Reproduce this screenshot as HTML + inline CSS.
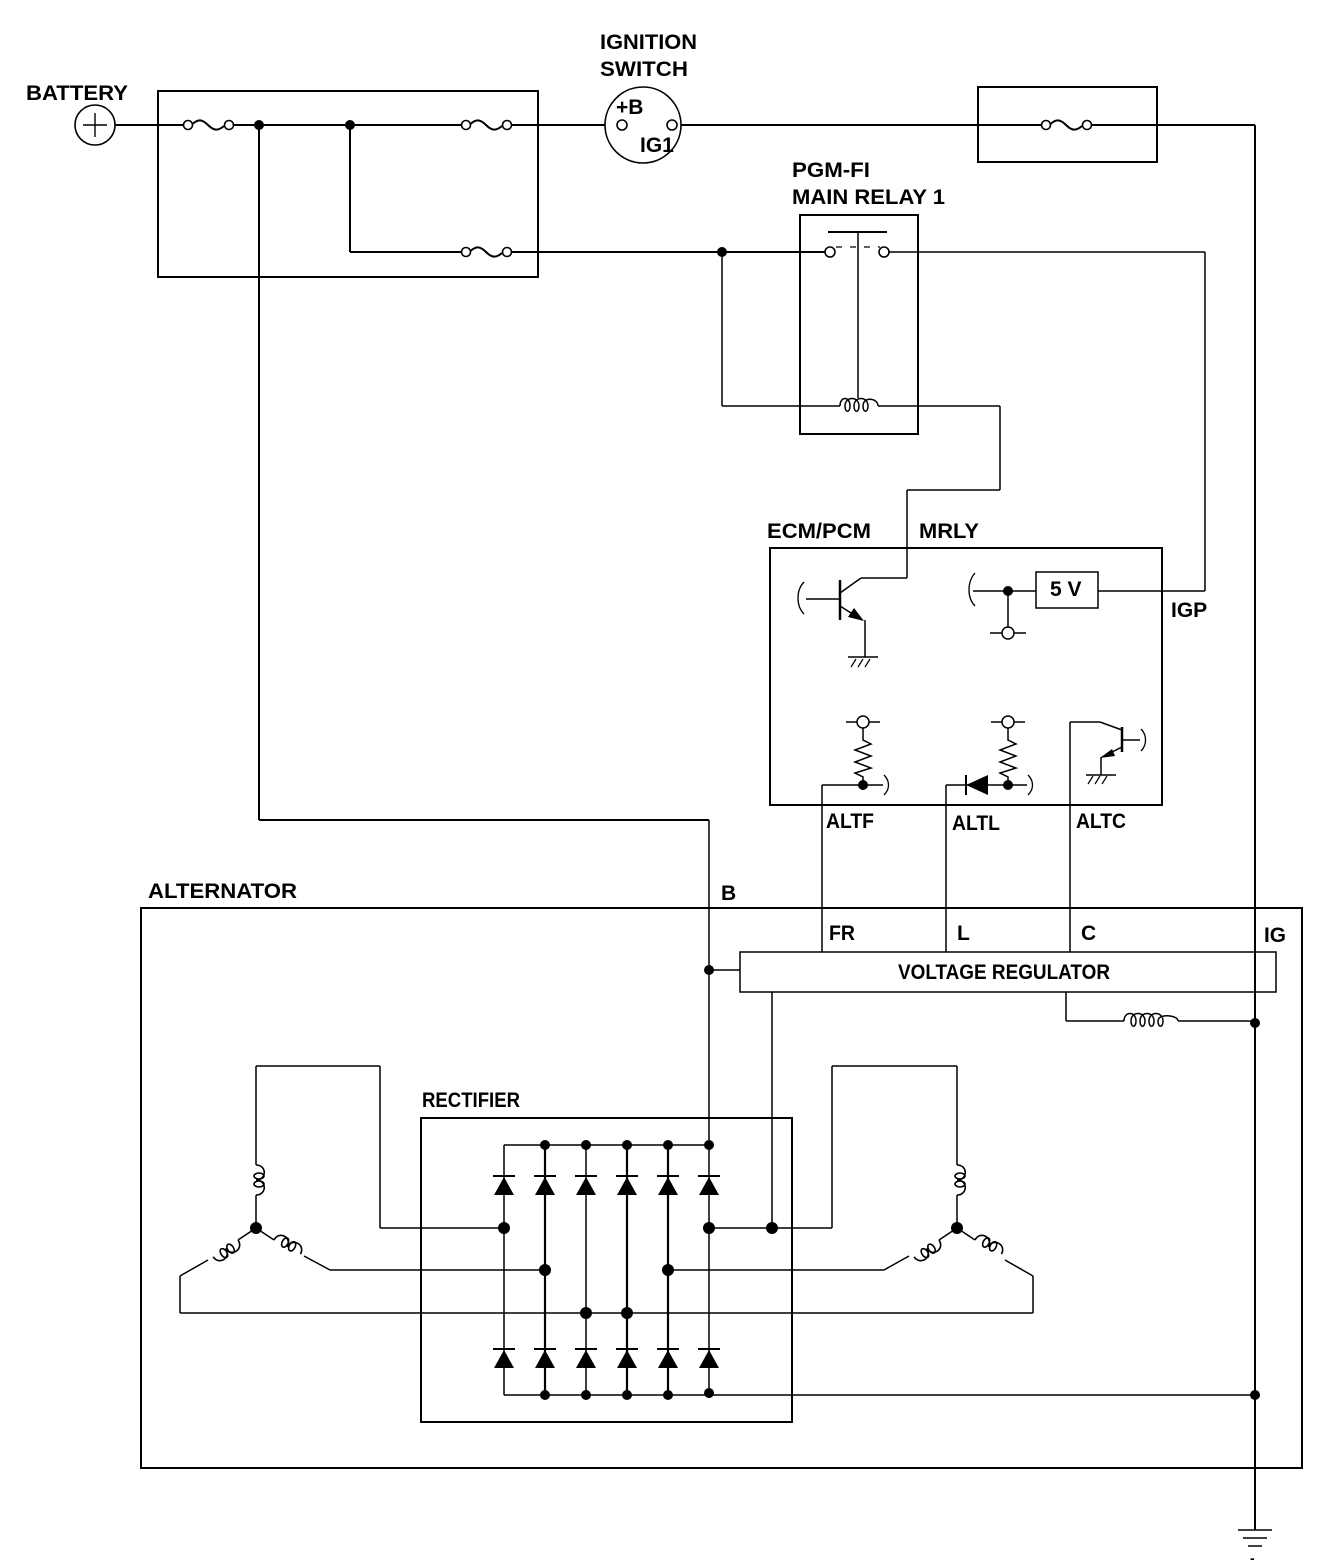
<!DOCTYPE html>
<html><head><meta charset="utf-8"><style>
html,body{margin:0;padding:0;background:#fff}
svg{display:block}
text{font-family:"Liberation Sans",Arial,sans-serif;font-weight:bold;fill:#000}
</style></head><body>
<svg width="1328" height="1568" viewBox="0 0 1328 1568" xmlns="http://www.w3.org/2000/svg">
<defs>
<g id="fuse"><circle cx="0" cy="0" r="4.5" fill="#fff" stroke="#000" stroke-width="1.6"/><path d="M4.5,-1 C10,-6 14,-6 20,0 S30,6 36,1" fill="none" stroke="#000" stroke-width="2"/><circle cx="41" cy="0" r="4.5" fill="#fff" stroke="#000" stroke-width="1.6"/></g>
<g id="dup"><line x1="-11" y1="0" x2="11" y2="0" stroke="#000" stroke-width="2"/><polygon points="0,1 -10,19 10,19" fill="#000"/></g>
<g id="coilv" fill="none" stroke="#000" stroke-width="1.6"><path d="M0,0 C11,0 11,15 0,15 C11,15 11,30 0,30"/><ellipse cx="3" cy="11" rx="5" ry="3"/><ellipse cx="3" cy="19" rx="5" ry="3"/></g>
</defs>
<g fill="none" stroke="#000" stroke-width="2">
<circle cx="95" cy="125" r="20" stroke-width="1.6"/>
<line x1="83" y1="125" x2="107" y2="125" stroke-width="1.4"/><line x1="95" y1="113" x2="95" y2="137" stroke-width="1.4"/>
<rect x="158" y="91" width="380" height="186"/>
<line x1="115" y1="125" x2="184" y2="125"/>
<line x1="233" y1="125" x2="462" y2="125"/>
<line x1="511" y1="125" x2="605" y2="125"/>
<line x1="350" y1="125" x2="350" y2="252"/>
<line x1="350" y1="252" x2="462" y2="252"/>
<line x1="511" y1="252" x2="826" y2="252"/>
<line x1="259" y1="125" x2="259" y2="820"/>
<line x1="259" y1="820" x2="709" y2="820"/>
<circle cx="643" cy="125" r="38" stroke-width="1.6"/>
<line x1="681" y1="125" x2="1041" y2="125"/>
<rect x="978" y="87" width="179" height="75"/>
<line x1="1090" y1="125" x2="1255" y2="125"/>
<line x1="1255" y1="125" x2="1255" y2="1530"/>
<rect x="800" y="215" width="118" height="219"/>
<line x1="828" y1="232" x2="887" y2="232"/>
<line x1="836" y1="247" x2="880" y2="247" stroke-dasharray="6,8" stroke-width="1.2"/>
<line x1="858" y1="232" x2="858" y2="398" stroke-width="1.5"/>
<line x1="722" y1="252" x2="722" y2="406" stroke-width="1.5"/>
<line x1="722" y1="406" x2="840" y2="406" stroke-width="1.5"/>
<line x1="878" y1="406" x2="1000" y2="406" stroke-width="1.5"/>
<path d="M840,406 C840,396 850,396 850,406 C850,413 845,413 845,406 C845,396 859,396 859,406 C859,413 854,413 854,406 C854,396 868,396 868,406 C868,413 863,413 863,406 C863,396 878,398 878,406" stroke-width="1.5"/>
<line x1="1000" y1="406" x2="1000" y2="490" stroke-width="1.5"/>
<line x1="1000" y1="490" x2="907" y2="490" stroke-width="1.5"/>
<line x1="907" y1="490" x2="907" y2="578" stroke-width="1.5"/>
<line x1="888" y1="252" x2="1205" y2="252" stroke-width="1.5"/>
<line x1="1205" y1="252" x2="1205" y2="591" stroke-width="1.5"/>
<line x1="1205" y1="591" x2="1098" y2="591" stroke-width="1.5"/>
<rect x="770" y="548" width="392" height="257"/>
<line x1="907" y1="578" x2="861" y2="578" stroke-width="1.5"/>
<line x1="861" y1="578" x2="840" y2="593" stroke-width="1.5"/>
<line x1="840" y1="580" x2="840" y2="620" stroke-width="2.5"/>
<line x1="806" y1="599" x2="840" y2="599" stroke-width="1.5"/>
<path d="M804,582 C796,590 796,606 804,614" stroke-width="1.3"/>
<line x1="840" y1="606" x2="862" y2="620" stroke-width="1.5"/>
<polygon points="864,621 848,617 854,608" fill="#000" stroke="none"/>
<line x1="865" y1="620" x2="865" y2="657" stroke-width="1.5"/>
<line x1="848" y1="657" x2="878" y2="657" stroke-width="1.5"/>
<path d="M851,667 L856,659 M858,667 L863,659 M865,667 L870,659" stroke-width="1.2"/>
<path d="M975,573 C967,582 967,598 975,606" stroke-width="1.3"/>
<line x1="973" y1="591" x2="1036" y2="591" stroke-width="1.5"/>
<rect x="1036" y="572" width="62" height="36" stroke-width="1.5"/>
<line x1="1008" y1="591" x2="1008" y2="627" stroke-width="1.5"/>
<line x1="990" y1="633" x2="1026" y2="633" stroke-width="1.5"/>
<circle cx="1008" cy="633" r="6" fill="#fff" stroke-width="1.5"/>
<line x1="846" y1="722" x2="880" y2="722" stroke-width="1.5"/>
<circle cx="863" cy="722" r="6" fill="#fff" stroke-width="1.5"/>
<path d="M863,728 L863,740 L871,744 L855,750 L871,756 L855,762 L871,768 L855,773 L863,777 L863,785" stroke-width="1.5"/>
<line x1="822" y1="785" x2="883" y2="785" stroke-width="1.5"/>
<path d="M884,775 C890,781 890,789 884,795" stroke-width="1.3"/>
<line x1="822" y1="785" x2="822" y2="952" stroke-width="1.5"/>
<line x1="991" y1="722" x2="1025" y2="722" stroke-width="1.5"/>
<circle cx="1008" cy="722" r="6" fill="#fff" stroke-width="1.5"/>
<path d="M1008,728 L1008,740 L1016,744 L1000,750 L1016,756 L1000,762 L1016,768 L1000,773 L1008,777 L1008,785" stroke-width="1.5"/>
<line x1="946" y1="785" x2="1027" y2="785" stroke-width="1.5"/>
<path d="M1028,775 C1034,781 1034,789 1028,795" stroke-width="1.3"/>
<polygon points="966,785 988,775 988,795" fill="#000" stroke="none"/>
<line x1="966" y1="775" x2="966" y2="795" stroke-width="2"/>
<line x1="946" y1="785" x2="946" y2="952" stroke-width="1.5"/>
<line x1="1070" y1="722" x2="1070" y2="952" stroke-width="1.5"/>
<line x1="1070" y1="722" x2="1100" y2="722" stroke-width="1.5"/>
<line x1="1100" y1="722" x2="1122" y2="730" stroke-width="1.5"/>
<line x1="1122" y1="727" x2="1122" y2="752" stroke-width="2.5"/>
<line x1="1122" y1="740" x2="1140" y2="740" stroke-width="1.5"/>
<path d="M1141,729 C1147,735 1147,745 1141,751" stroke-width="1.3"/>
<line x1="1122" y1="747" x2="1102" y2="757" stroke-width="1.5"/>
<polygon points="1100,758 1112,749 1115,756" fill="#000" stroke="none"/>
<line x1="1101" y1="757" x2="1101" y2="775" stroke-width="1.5"/>
<line x1="1086" y1="775" x2="1116" y2="775" stroke-width="1.5"/>
<path d="M1088,784 L1093,776 M1095,784 L1100,776 M1102,784 L1107,776" stroke-width="1.2"/>
<rect x="141" y="908" width="1161" height="560"/>
<rect x="740" y="952" width="536" height="40" stroke-width="1.5"/>
<line x1="709" y1="820" x2="709" y2="1395" stroke-width="1.5"/>
<line x1="709" y1="970" x2="740" y2="970" stroke-width="1.5"/>
<line x1="772" y1="992" x2="772" y2="1228" stroke-width="1.5"/>
<line x1="1066" y1="992" x2="1066" y2="1021" stroke-width="1.5"/>
<line x1="1066" y1="1021" x2="1124" y2="1021" stroke-width="1.5"/>
<line x1="1178" y1="1021" x2="1255" y2="1021" stroke-width="1.5"/>
<path d="M1124,1021 C1124,1011 1136,1011 1136,1021 C1136,1028 1131,1028 1131,1021 C1131,1011 1145,1011 1145,1021 C1145,1028 1140,1028 1140,1021 C1140,1011 1154,1011 1154,1021 C1154,1028 1149,1028 1149,1021 C1149,1011 1163,1011 1163,1021 C1163,1028 1158,1028 1158,1021 C1158,1013 1178,1015 1178,1021" stroke-width="1.5"/>
<rect x="421" y="1118" width="371" height="304"/>
<line x1="504" y1="1145" x2="709" y2="1145" stroke-width="1.5"/>
<line x1="504" y1="1395" x2="1255" y2="1395" stroke-width="1.5"/>
<line x1="504" y1="1145" x2="504" y2="1395" stroke-width="1.5"/>
<line x1="545" y1="1145" x2="545" y2="1395" stroke-width="2.2"/>
<line x1="586" y1="1145" x2="586" y2="1395" stroke-width="1.5"/>
<line x1="627" y1="1145" x2="627" y2="1395" stroke-width="2.2"/>
<line x1="668" y1="1145" x2="668" y2="1395" stroke-width="2.2"/>
<line x1="380" y1="1228" x2="504" y2="1228" stroke-width="1.5"/>
<line x1="380" y1="1066" x2="380" y2="1228" stroke-width="1.5"/>
<line x1="256" y1="1066" x2="380" y2="1066" stroke-width="1.5"/>
<line x1="256" y1="1066" x2="256" y2="1165" stroke-width="1.5"/>
<line x1="256" y1="1195" x2="256" y2="1228" stroke-width="1.5"/>
<line x1="256" y1="1228" x2="238" y2="1240" stroke-width="1.5"/>
<line x1="208" y1="1260" x2="180" y2="1276" stroke-width="1.5"/>
<line x1="256" y1="1228" x2="274" y2="1240" stroke-width="1.5"/>
<line x1="304" y1="1256" x2="330" y2="1270" stroke-width="1.5"/>
<line x1="330" y1="1270" x2="545" y2="1270" stroke-width="1.5"/>
<line x1="180" y1="1276" x2="180" y2="1313" stroke-width="1.5"/>
<line x1="180" y1="1313" x2="1033" y2="1313" stroke-width="1.5"/>
<line x1="709" y1="1228" x2="832" y2="1228" stroke-width="1.5"/>
<line x1="832" y1="1066" x2="832" y2="1228" stroke-width="1.5"/>
<line x1="832" y1="1066" x2="957" y2="1066" stroke-width="1.5"/>
<line x1="957" y1="1066" x2="957" y2="1165" stroke-width="1.5"/>
<line x1="957" y1="1195" x2="957" y2="1228" stroke-width="1.5"/>
<line x1="957" y1="1228" x2="939" y2="1240" stroke-width="1.5"/>
<line x1="909" y1="1256" x2="884" y2="1270" stroke-width="1.5"/>
<line x1="884" y1="1270" x2="668" y2="1270" stroke-width="1.5"/>
<line x1="957" y1="1228" x2="975" y2="1240" stroke-width="1.5"/>
<line x1="1005" y1="1260" x2="1033" y2="1276" stroke-width="1.5"/>
<line x1="1033" y1="1276" x2="1033" y2="1313" stroke-width="1.5"/>
<line x1="1238" y1="1530" x2="1272" y2="1530" stroke-width="1.5"/>
<line x1="1243" y1="1538" x2="1267" y2="1538" stroke-width="1.5"/>
<line x1="1248" y1="1546" x2="1262" y2="1546" stroke-width="1.5"/>
</g>
<use href="#coilv" x="256" y="1165"/>
<use href="#coilv" x="957" y="1165"/>
<use href="#coilv" transform="translate(238,1240) rotate(56)"/>
<use href="#coilv" transform="translate(274,1240) rotate(-62)"/>
<use href="#coilv" transform="translate(939,1240) rotate(56)"/>
<use href="#coilv" transform="translate(975,1240) rotate(-62)"/>
<use href="#fuse" x="188" y="125"/>
<use href="#fuse" x="466" y="125"/>
<use href="#fuse" x="466" y="252"/>
<use href="#fuse" x="1046" y="125"/>
<g fill="#fff" stroke="#000" stroke-width="1.6">
<circle cx="622" cy="125" r="5"/><circle cx="672" cy="125" r="5"/>
<circle cx="830" cy="252" r="5"/><circle cx="884" cy="252" r="5"/>
</g>
<g>
<use href="#dup" x="504" y="1176"/><use href="#dup" x="545" y="1176"/><use href="#dup" x="586" y="1176"/><use href="#dup" x="627" y="1176"/><use href="#dup" x="668" y="1176"/><use href="#dup" x="709" y="1176"/>
<use href="#dup" x="504" y="1349"/><use href="#dup" x="545" y="1349"/><use href="#dup" x="586" y="1349"/><use href="#dup" x="627" y="1349"/><use href="#dup" x="668" y="1349"/><use href="#dup" x="709" y="1349"/>
</g>
<g fill="#000">
<circle cx="259" cy="125" r="5"/><circle cx="350" cy="125" r="5"/><circle cx="722" cy="252" r="5"/>
<circle cx="1008" cy="591" r="5"/><circle cx="863" cy="785" r="5"/><circle cx="1008" cy="785" r="5"/>
<circle cx="709" cy="970" r="5"/><circle cx="1255" cy="1023" r="5"/><circle cx="1255" cy="1395" r="5"/>
<circle cx="545" cy="1145" r="5"/><circle cx="586" cy="1145" r="5"/><circle cx="627" cy="1145" r="5"/><circle cx="668" cy="1145" r="5"/><circle cx="709" cy="1145" r="5"/>
<circle cx="545" cy="1395" r="5"/><circle cx="586" cy="1395" r="5"/><circle cx="627" cy="1395" r="5"/><circle cx="668" cy="1395" r="5"/><circle cx="709" cy="1393" r="5"/>
<circle cx="504" cy="1228" r="6"/><circle cx="709" cy="1228" r="6"/><circle cx="772" cy="1228" r="6"/>
<circle cx="545" cy="1270" r="6"/><circle cx="668" cy="1270" r="6"/>
<circle cx="586" cy="1313" r="6"/><circle cx="627" cy="1313" r="6"/>
<circle cx="256" cy="1228" r="6"/><circle cx="957" cy="1228" r="6"/>
</g>
<g font-size="21">
<text x="26" y="100" textLength="102" lengthAdjust="spacingAndGlyphs">BATTERY</text>
<text x="600" y="49" textLength="97" lengthAdjust="spacingAndGlyphs">IGNITION</text>
<text x="600" y="76" textLength="88" lengthAdjust="spacingAndGlyphs">SWITCH</text>
<text x="616" y="114">+B</text>
<text x="640" y="152">IG1</text>
<text x="792" y="177" textLength="78" lengthAdjust="spacingAndGlyphs">PGM-FI</text>
<text x="792" y="204" textLength="153" lengthAdjust="spacingAndGlyphs">MAIN RELAY 1</text>
<text x="767" y="538" textLength="104" lengthAdjust="spacingAndGlyphs">ECM/PCM</text>
<text x="919" y="538" textLength="60" lengthAdjust="spacingAndGlyphs">MRLY</text>
<text x="1050" y="596">5 V</text>
<text x="1171" y="617">IGP</text>
<text x="148" y="898" textLength="149" lengthAdjust="spacingAndGlyphs">ALTERNATOR</text>
<text x="422" y="1107" textLength="98" lengthAdjust="spacingAndGlyphs">RECTIFIER</text>
<text x="826" y="828" textLength="48" lengthAdjust="spacingAndGlyphs">ALTF</text>
<text x="952" y="830" textLength="48" lengthAdjust="spacingAndGlyphs">ALTL</text>
<text x="1076" y="828" textLength="50" lengthAdjust="spacingAndGlyphs">ALTC</text>
<text x="721" y="900">B</text>
<text x="829" y="940" textLength="26" lengthAdjust="spacingAndGlyphs">FR</text>
<text x="957" y="940">L</text>
<text x="1081" y="940">C</text>
<text x="1264" y="942" textLength="22" lengthAdjust="spacingAndGlyphs">IG</text>
<text x="898" y="979" textLength="212" lengthAdjust="spacingAndGlyphs">VOLTAGE REGULATOR</text>
<text x="1250" y="1563" font-size="14">-</text>
</g>
</svg>
</body></html>
